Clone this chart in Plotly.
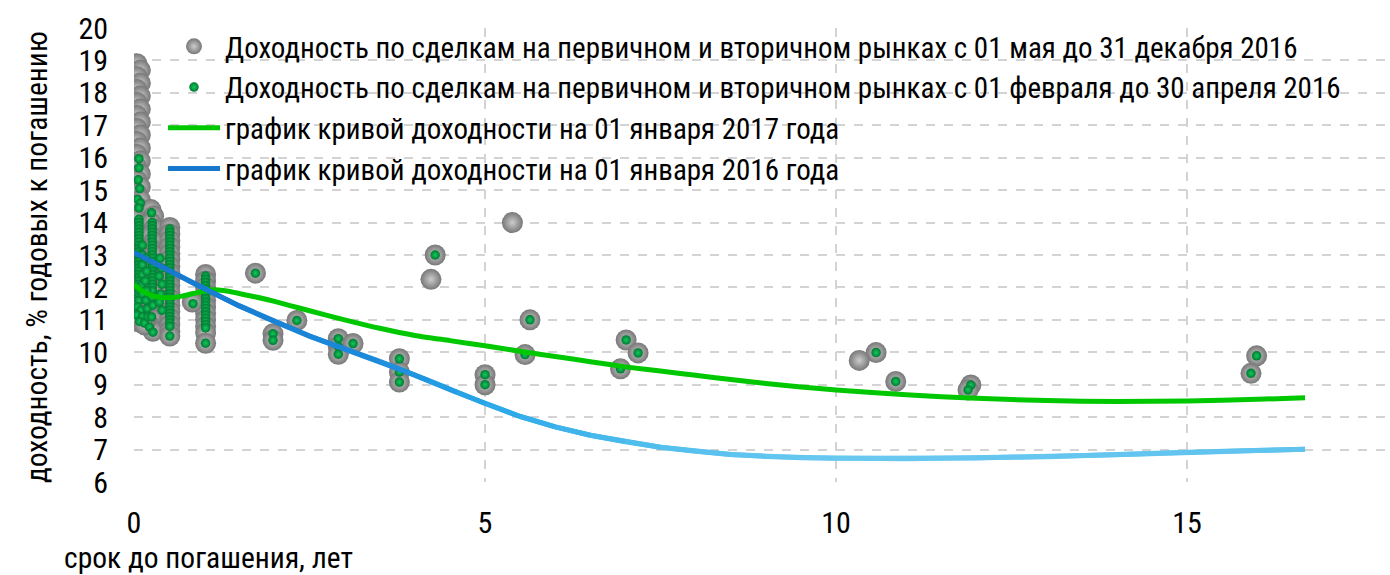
import plotly.graph_objects as go

# ---------------- data ----------------
legend_names = [
    "Доходность по сделкам на первичном и вторичном рынках с 01 мая до 31 декабря 2016",
    "Доходность по сделкам на первичном и вторичном рынках с 01 февраля до 30 апреля 2016",
    "график кривой доходности на 01 января 2017 года",
    "график кривой доходности на 01 января 2016 года",
]

# gray bubbles (May-Dec 2016): short-maturity columns
gray_col_x = [
    [0.04, 0.09, 0.04, 0.09, 0.04, 0.09, 0.04, 0.09, 0.04, 0.09, 0.04, 0.09, 0.04, 0.09,
     0.04, 0.09, 0.04, 0.09, 0.04, 0.09, 0.04, 0.09, 0.04, 0.09, 0.04, 0.09, 0.04, 0.09,
     0.04, 0.09, 0.04, 0.09, 0.04, 0.09, 0.04, 0.09, 0.04, 0.09, 0.04, 0.09, 0.06],
    [0.24, 0.28, 0.24, 0.28, 0.24, 0.28, 0.24, 0.28, 0.24, 0.28, 0.24, 0.28, 0.24, 0.28,
     0.24, 0.28, 0.24, 0.28, 0.24, 0.27, 0.17, 0.15],
    [0.51, 0.51, 0.51, 0.51, 0.51, 0.51, 0.51, 0.51, 0.51, 0.51, 0.51, 0.51, 0.51, 0.51,
     0.51, 0.51, 0.51, 0.51],
    [1.02, 1.02, 1.02, 1.02, 1.02, 1.02, 1.02, 1.02, 1.02, 1.02, 1.02, 0.83],
]
gray_col_y = [
    [18.9, 18.7, 18.5, 18.3, 18.1, 17.9, 17.7, 17.5, 17.3, 17.1, 16.9, 16.7, 16.5, 16.3,
     16.1, 15.9, 15.7, 15.5, 15.3, 15.1, 14.9, 14.7, 14.5, 14.3, 14.1, 13.9, 13.7, 13.5,
     13.3, 13.1, 12.9, 12.7, 12.5, 12.3, 12.1, 11.9, 11.7, 11.5, 11.3, 11.1, 10.95],
    [14.4, 14.2, 14.0, 13.8, 13.6, 13.4, 13.2, 13.0, 12.8, 12.6, 12.4, 12.2, 12.0, 11.8,
     11.6, 11.4, 11.2, 11.0, 10.8, 10.65, 11.0, 10.85],
    [13.85, 13.65, 13.45, 13.25, 13.05, 12.85, 12.65, 12.45, 12.25, 12.05, 11.85, 11.65,
     11.45, 11.25, 11.05, 10.85, 10.65, 10.5],
    [12.4, 12.2, 12.0, 11.8, 11.6, 11.4, 11.2, 11.0, 10.8, 10.6, 10.28, 11.55],
]

# bonds with longer maturity (both periods)
long_x = [1.73, 2.32, 1.98, 1.98, 2.91, 2.91, 2.91, 3.12, 3.78, 3.78, 3.78, 4.29,
          5.00, 5.00, 5.64, 5.57, 7.01, 7.18, 6.93, 10.57, 10.85, 11.92, 11.88, 15.99, 15.91]
long_y = [12.44, 10.98, 10.57, 10.37, 10.42, 10.18, 9.94, 10.27, 9.80, 9.39, 9.08, 13.0,
          9.31, 9.00, 11.0, 9.93, 10.38, 9.98, 9.49, 9.99, 9.10, 8.99, 8.84, 9.89, 9.35]
# gray only
gray_only_x = [4.23, 5.39, 10.33]
gray_only_y = [12.25, 14.0, 9.75]

# green dots (Feb-Apr 2016): short-maturity
green_bar_x = [0.07, 0.26, 0.51, 1.02]
green_bar_y = [
    [14.1, 14.0, 13.9, 13.8, 13.7, 13.6, 13.5, 13.4, 13.3, 13.2, 13.1, 13.0, 12.9, 12.8,
     12.7, 12.6, 12.5, 12.4, 12.3, 12.2, 12.1, 12.0, 11.9, 11.8, 11.7, 11.6],
    [14.0, 13.9, 13.8, 13.7, 13.6, 13.5, 13.4, 13.3, 13.2, 13.1, 13.0, 12.9, 12.8, 12.7,
     12.6, 12.5, 12.4, 12.3, 12.2, 12.1, 12.0, 11.9],
    [13.8, 13.7, 13.6, 13.5, 13.4, 13.3, 13.2, 13.1, 13.0, 12.9, 12.8, 12.7, 12.6, 12.5,
     12.4, 12.3, 12.2, 12.1, 12.0, 11.9, 11.8, 11.7, 11.6, 11.5, 11.4, 11.3, 11.2, 11.1,
     11.0, 10.9, 10.8],
    [12.35, 12.25, 12.15, 12.05, 11.95, 11.85, 11.75, 11.65, 11.55, 11.45, 11.35, 11.25,
     11.15, 11.05, 10.95, 10.85, 10.75],
]
green_dot_x = [0.07, 0.07, 0.06, 0.08, 0.05, 0.09, 0.07,
               0.12, 0.12, 0.12, 0.12, 0.12, 0.12,
               0.05, 0.10, 0.04, 0.12, 0.08, 0.15,
               0.17, 0.18, 0.16, 0.18, 0.17, 0.19, 0.20,
               0.25, 0.26, 0.27, 0.25, 0.22, 0.27,
               0.37, 0.39, 0.36, 0.40, 0.38, 0.36, 0.40,
               0.51, 1.02, 0.84]
green_dot_y = [15.97, 15.69, 15.32, 15.05, 14.72, 14.60, 14.45,
               13.3, 13.0, 12.7, 12.4, 12.1, 11.8,
               11.4, 11.3, 11.15, 11.1, 10.95, 10.9,
               12.9, 12.5, 12.2, 11.9, 11.6, 11.35, 11.1,
               14.3, 11.7, 11.45, 11.09, 10.78, 10.62,
               12.9, 12.6, 12.35, 12.1, 11.8, 11.55, 11.3,
               10.5, 10.28, 11.5]

# yield curves
curve17_x = [0, 0.15, 0.3, 0.5, 0.7, 0.9, 1.1, 1.3, 1.7, 2.0, 2.5, 3.0, 3.5, 4.0, 4.5,
             5.0, 5.5, 6.0, 6.5, 7.0, 7.5, 8.0, 8.5, 9.0, 9.5, 10.0, 11.0, 12.0, 13.0,
             14.0, 15.0, 16.0, 16.68]
curve17_y = [12.08, 11.85, 11.72, 11.68, 11.74, 11.84, 11.93, 11.9, 11.72, 11.57, 11.28,
             11.0, 10.74, 10.52, 10.36, 10.2, 10.03, 9.87, 9.71, 9.55, 9.42, 9.29, 9.16,
             9.04, 8.93, 8.84, 8.69, 8.58, 8.51, 8.48, 8.5, 8.55, 8.6]

curve16_x = [0, 0.25, 0.5, 0.75, 1.0, 1.5, 2.0, 2.5, 3.0, 3.5, 3.9, 4.2, 4.6, 5.0, 5.5,
             6.0, 6.5, 7.0, 7.5, 8.0, 8.5, 9.0, 9.5, 10.0, 11.0, 12.0, 13.0, 14.0, 15.0,
             16.0, 16.68]
curve16_y = [13.08, 12.8, 12.52, 12.24, 11.97, 11.43, 10.95, 10.5, 10.1, 9.72, 9.38, 9.13,
             8.76, 8.42, 8.02, 7.7, 7.44, 7.24, 7.07, 6.95, 6.85, 6.79, 6.75, 6.73, 6.72,
             6.74, 6.78, 6.84, 6.92, 6.97, 7.01]

y_ticks = list(range(6, 21))
x_ticks = [0, 5, 10, 15]

# ---------------- build ----------------
FONT = "Roboto Condensed, Liberation Sans Narrow, Arial Narrow, DejaVu Sans Condensed, sans-serif"

gray_x = [v for col in gray_col_x for v in col] + long_x + gray_only_x
gray_y = [v for col in gray_col_y for v in col] + long_y + gray_only_y
green_x = []
green_y = []
for bx, ys in zip(green_bar_x, green_bar_y):
    green_x += [bx] * len(ys)
    green_y += ys
green_x += green_dot_x + long_x
green_y += green_dot_y + long_y

fig = go.Figure()
fig.add_trace(go.Scatter(
    x=gray_x, y=gray_y, mode="markers", name=legend_names[0],
    marker=dict(size=21, color="#777777", line=dict(width=0),
                gradient=dict(type="radial", color="#cccccc")),
))
fig.add_trace(go.Scatter(
    x=green_x, y=green_y, mode="markers", name=legend_names[1],
    marker=dict(size=9.5, color="#007a32", line=dict(width=0),
                gradient=dict(type="radial", color="#14c85c")),
))
fig.add_trace(go.Scatter(
    x=curve17_x, y=curve17_y, mode="lines", name=legend_names[2],
    line=dict(color="#00c800", width=5, shape="spline", smoothing=0.6),
))


def blue_at(xv):
    stops = [(0, (22, 118, 204)), (3.5, (28, 140, 220)), (5.0, (40, 168, 232)),
             (7.5, (85, 192, 238)), (10, (105, 200, 240)), (17, (95, 195, 238))]
    for (x0, c0), (x1, c1) in zip(stops[:-1], stops[1:]):
        if x0 <= xv <= x1:
            t = (xv - x0) / (x1 - x0)
            c = [round(a + (b - a) * t) for a, b in zip(c0, c1)]
            return "rgb(%d,%d,%d)" % tuple(c)
    return "rgb(%d,%d,%d)" % stops[-1][1]


n = len(curve16_x)
for i in range(n - 1):
    j = min(i + 3, n)
    xm = 0.5 * (curve16_x[i] + curve16_x[i + 1])
    fig.add_trace(go.Scatter(
        x=curve16_x[i:j], y=curve16_y[i:j], mode="lines",
        name=legend_names[3], showlegend=(i == 0), legendgroup="c16",
        line=dict(color=blue_at(xm), width=5),
        hoverinfo="skip",
    ))

W, H = 1390, 575
L, R, T, B = 134, 0, 28, 93
pw = W - L - R
ph = H - T - B

grid = dict(gridcolor="#d3d3d3", griddash="dash", gridwidth=1.5, zeroline=False,
            showline=False, ticks="")
fig.update_layout(
    width=W, height=H,
    margin=dict(l=L, r=R, t=T, b=B),
    paper_bgcolor="white", plot_bgcolor="white",
    font=dict(family=FONT, size=30, color="#000000"),
    xaxis=dict(range=[0, 17.89], tickvals=x_ticks, ticktext=[str(v) for v in x_ticks],
               ticklabelstandoff=20, **grid),
    yaxis=dict(range=[6, 20], tickvals=y_ticks, ticktext=[str(v) for v in y_ticks],
               ticklabelstandoff=25, **grid),
    legend=dict(x=(163 - L) / pw, y=1 + 7 / ph, xanchor="left", yanchor="top",
                bgcolor="rgba(0,0,0,0)", itemwidth=52, tracegroupgap=0,
                font=dict(family=FONT, size=29)),
    showlegend=True,
    annotations=[
        dict(text="срок до погашения, лет", xref="paper", yref="paper",
             x=(62 - L) / pw, y=-(558 - (T + ph)) / ph, xanchor="left", yanchor="middle",
             showarrow=False, font=dict(family=FONT, size=29.5)),
        dict(text="доходность, % годовых к погашению", xref="paper", yref="paper",
             x=(37 - L) / pw, y=(T + ph - 257) / ph, xanchor="center", yanchor="middle",
             textangle=-90, showarrow=False, font=dict(family=FONT, size=29.5)),
    ],
)

fig.write_html("out.html", config={"displayModeBar": False},
               post_script="document.body.style.margin='0';")
